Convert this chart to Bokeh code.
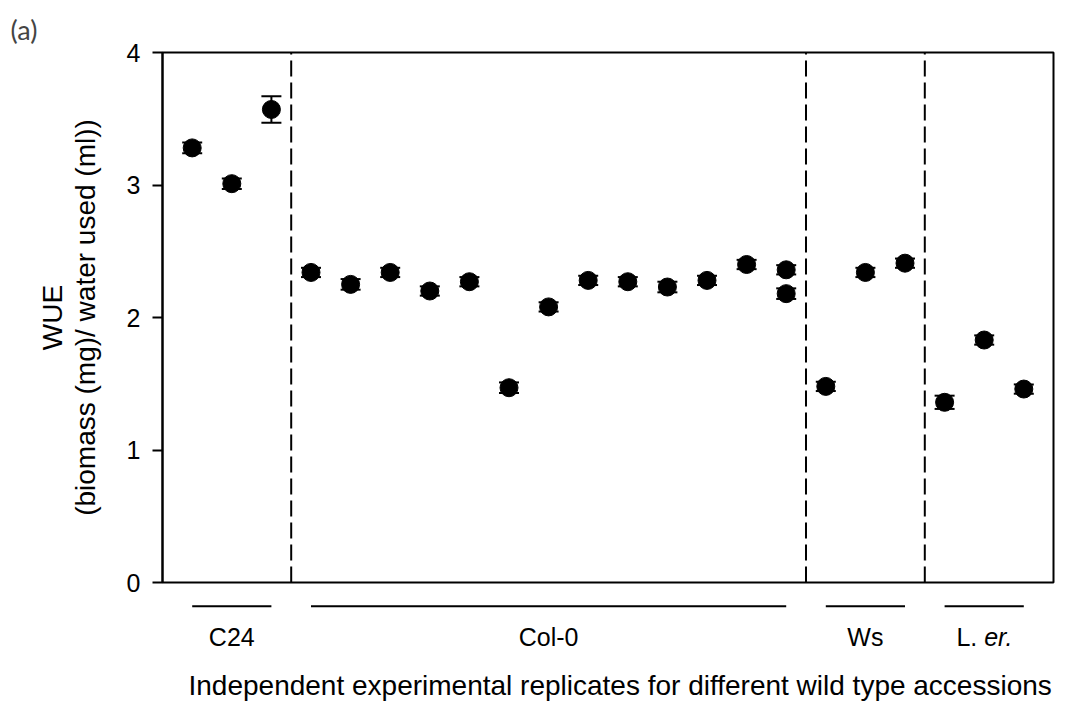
from bokeh.plotting import figure
from bokeh.layouts import column
from bokeh.models import Range1d, FixedTicker, Whisker, TeeHead, ColumnDataSource
from bokeh.core.properties import value
from bokeh.embed import file_html
from bokeh.resources import INLINE

# ---------------- data ----------------
accessions = ["C24", "Col-0", "Ws", "L. er."]
group_first = [1, 4, 17, 20]
group_last = [3, 16, 19, 22]

replicate = [1, 2, 3,
             4, 5, 6, 7, 8, 9, 10, 11, 12, 13, 14, 15, 16, 16,
             17, 18, 19,
             20, 21, 22]
wue = [3.28, 3.01, 3.57,
       2.34, 2.25, 2.34, 2.20, 2.27, 1.47, 2.08, 2.28, 2.27, 2.23, 2.28, 2.40, 2.36, 2.18,
       1.48, 2.34, 2.41,
       1.36, 1.83, 1.46]
wue_se = [0.04, 0.04, 0.10,
          0.035, 0.04, 0.035, 0.035, 0.035, 0.04, 0.035, 0.035, 0.035, 0.04, 0.035, 0.035, 0.035, 0.04,
          0.035, 0.035, 0.035,
          0.05, 0.035, 0.035]
y_ticks = [0, 1, 2, 3, 4]

y_title = "WUE\n(biomass (mg)/ water used (ml))"
x_title = "Independent experimental replicates for different wild type accessions"
panel_tag = "(a)"

FONT = "Liberation Sans"
W, H = 1066, 703
LEFT, RIGHT, TOP = 162, 13, 52
TOP_H = 598                      # height of the main panel (frame 52..582)
X0, X1 = 0.25, 22.75
PX_PER_X = (W - LEFT - RIGHT) / (X1 - X0)
PX_PER_Y = 132.5

# ---------------- main plot ----------------
p = figure(width=W, height=TOP_H,
           x_range=Range1d(X0, X1), y_range=Range1d(0, 4),
           min_border_left=LEFT, min_border_right=RIGHT, min_border_top=TOP,
           min_border_bottom=TOP_H - TOP - 530,
           x_axis_location=None, toolbar_location=None, output_backend="svg",
           outline_line_color="black", outline_line_width=2)
p.grid.visible = False
p.border_fill_color = "white"

ya = p.yaxis[0]
ya.ticker = FixedTicker(ticks=y_ticks)
ya.minor_tick_line_color = None
ya.major_tick_in = 0
ya.major_tick_out = 10
ya.major_tick_line_width = 2
ya.major_tick_line_color = "black"
ya.axis_line_width = 2
ya.axis_line_color = "black"
ya.major_label_text_font = FONT
ya.major_label_text_font_size = "25px"
ya.major_label_text_color = "black"
ya.major_label_standoff = 12
ya.axis_label = y_title
ya.axis_label_text_font = FONT
ya.axis_label_text_font_size = "28px"
ya.axis_label_text_font_style = "normal"
ya.axis_label_text_color = "black"
ya.axis_label_text_line_height = 1.05
ya.axis_label_standoff = 23

p.title.text = panel_tag
p.title.align = "left"
p.title.vertical_align = "top"
p.title.offset = -152
p.title.text_font = "Lato"
p.title.text_font_size = "27px"
p.title.text_font_style = "normal"
p.title.standoff = 10

# dashed separators between accessions
seps = [(group_last[i] + group_first[i + 1]) / 2 for i in range(len(accessions) - 1)]
p.segment(x0=seps, y0=[0] * len(seps), x1=seps, y1=[4] * len(seps),
          line_color="black", line_width=2, line_dash="16 6")

# error bars + points
src = ColumnDataSource(dict(
    x=replicate, y=wue,
    upper=[m + e for m, e in zip(wue, wue_se)],
    lower=[m - e for m, e in zip(wue, wue_se)],
))
p.add_layout(Whisker(source=src, base="x", upper="upper", lower="lower",
                     line_color="black", line_width=2,
                     upper_head=TeeHead(size=20, line_width=2, line_color="black"),
                     lower_head=TeeHead(size=20, line_width=2, line_color="black")))
p.scatter(x="x", y="y", source=src, size=18, marker="circle",
          fill_color="black", line_color="black")

# ---------------- lower strip: group brackets + x title ----------------
b = figure(width=W, height=H - TOP_H,
           x_range=p.x_range,
           y_range=Range1d(-(H - 582) / PX_PER_Y, -(TOP_H - 582) / PX_PER_Y),
           min_border_left=LEFT, min_border_right=RIGHT, min_border_top=0, min_border_bottom=0,
           x_axis_location=None, y_axis_location=None,
           toolbar_location=None, output_backend="svg", outline_line_color=None)
b.grid.visible = False
b.border_fill_color = "white"

b.segment(x0=group_first, y0=[-0.18] * 4, x1=group_last, y1=[-0.18] * 4,
          line_color="black", line_width=2)
centers = [(a + c) / 2 for a, c in zip(group_first, group_last)]
for name, cx in zip(accessions, centers):
    if " er." in name:
        head, tail = name.split(" ", 1)
        b.text(x=[cx], y=[-0.415], text=[head + " "], text_align="right",
               text_baseline="middle", text_font=value(FONT), text_font_size="25px",
               text_color="black")
        b.text(x=[cx], y=[-0.415], text=[tail], text_align="left",
               text_baseline="middle", text_font=value(FONT), text_font_size="25px",
               text_font_style="italic", text_color="black")
    else:
        b.text(x=[cx], y=[-0.415], text=[name], text_align="center",
               text_baseline="middle", text_font=value(FONT), text_font_size="25px",
               text_color="black")

b.text(x=[X0 + 26 / PX_PER_X], y=[-0.777], text=[x_title], text_align="left",
       text_baseline="middle", text_font=value(FONT), text_font_size="28px",
       text_color="black")

layout = column(p, b, spacing=0)
open("out.html", "w").write(file_html(layout, INLINE))
